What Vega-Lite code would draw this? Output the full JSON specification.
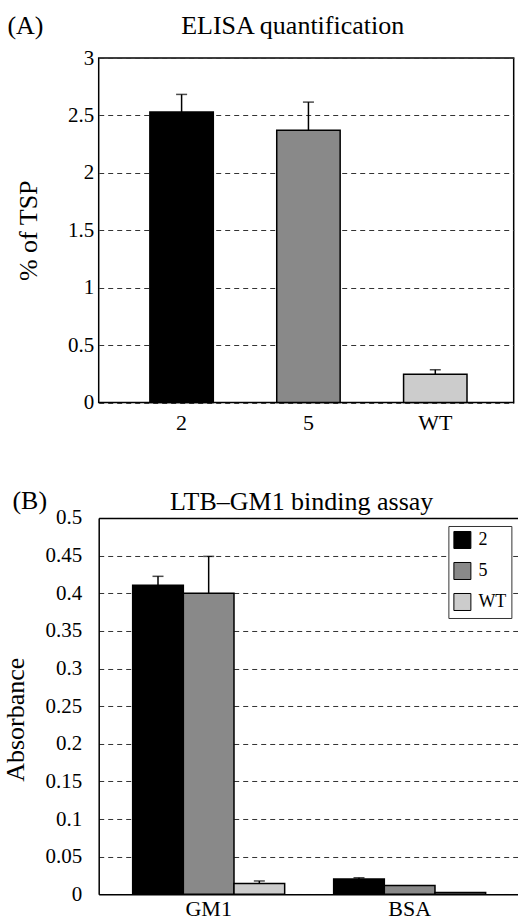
{
  "$schema": "https://vega.github.io/schema/vega-lite/v6.json",
  "padding": {"left": 2.7, "top": 12, "right": 0, "bottom": 0},
  "spacing": 53,
  "resolve": {"scale": {"color": "independent"}, "legend": {"color": "independent"}},
  "config": {
    "font": "Liberation Serif",
    "view": {"stroke": "#000", "strokeWidth": 1.5},
    "axis": {
      "labelFont": "Liberation Serif", "titleFont": "Liberation Serif",
      "labelColor": "#000", "titleColor": "#000", "titleFontWeight": "normal",
      "domainColor": "#000", "domainWidth": 1.5, "ticks": false,
      "gridColor": "#333", "gridDash": [5, 4], "gridWidth": 1
    },
    "title": {"font": "Liberation Serif", "fontWeight": "normal", "fontSize": 26, "color": "#000"},
    "legend": {
      "labelFont": "Liberation Serif", "labelFontSize": 18, "labelColor": "#000",
      "symbolType": "square", "symbolSize": 289, "symbolStrokeColor": "#000", "symbolStrokeWidth": 1,
      "rowPadding": 9, "padding": 5, "strokeColor": "#333", "fillColor": "#fff", "labelOffset": 7
    }
  },
  "vconcat": [
    {
      "width": 415, "height": 344.5,
      "title": {"text": "(A)", "anchor": "start", "frame": "group", "dx": -91.3, "dy": 47, "baseline": "alphabetic", "offset": 0},
      "data": {"values": [
        {"s": "2", "v": 2.53, "hi": 2.683},
        {"s": "5", "v": 2.37, "hi": 2.616},
        {"s": "WT", "v": 0.247, "hi": 0.285}
      ]},
      "layer": [
        {
          "mark": {"type": "bar", "stroke": "#000", "strokeWidth": 1.5},
          "encoding": {
            "x": {"field": "s", "type": "nominal", "sort": ["2", "5", "WT"],
              "scale": {"paddingInner": 0.5, "paddingOuter": 0.3858, "align": 0.523},
              "axis": {"orient": "bottom", "title": null, "labelAngle": 0, "labelFontSize": 22, "labelPadding": 10, "domain": false, "grid": false}},
            "y": {"field": "v", "type": "quantitative", "scale": {"domain": [0, 3], "nice": false},
              "axis": {"orient": "left", "title": "% of TSP", "values": [0, 0.5, 1, 1.5, 2, 2.5, 3], "format": "~g", "labelFont": "Liberation Serif", "labelFontSize": 21, "labelPadding": 5,
                "titleFontSize": 26, "titleX": -57, "titleBaseline": "bottom", "domain": false, "grid": true}},
            "color": {"field": "s", "type": "nominal", "scale": {"domain": ["2", "5", "WT"], "range": ["#000000", "#898989", "#cccccc"]}, "legend": null}
          }
        },
        {
          "mark": {"type": "rule", "color": "#000", "strokeWidth": 1.5},
          "encoding": {
            "x": {"field": "s", "type": "nominal", "sort": ["2", "5", "WT"],
              "scale": {"paddingInner": 0.5, "paddingOuter": 0.3858, "align": 0.523},
              "axis": {"orient": "top", "title": "ELISA quantification", "labels": false, "ticks": false, "domain": false, "grid": false,
                "titleFontSize": 26, "titleX": 193.5, "titleY": -24.2, "titleBaseline": "alphabetic", "titleAlign": "center"}},
            "y": {"field": "v", "type": "quantitative", "scale": {"domain": [0, 3], "nice": false},
              "axis": {"orient": "left", "title": "% of TSP", "values": [0, 0.5, 1, 1.5, 2, 2.5, 3], "format": "~g", "labelFont": "Liberation Serif", "labelFontSize": 21, "labelPadding": 5,
                "titleFontSize": 26, "titleX": -57, "titleBaseline": "bottom", "domain": false, "grid": true}},
            "y2": {"field": "hi"}
          }
        },
        {
          "mark": {"type": "tick", "color": "#000", "thickness": 1.5, "size": 11},
          "encoding": {
            "x": {"field": "s", "type": "nominal", "sort": ["2", "5", "WT"], "axis": null},
            "y": {"field": "hi", "type": "quantitative", "scale": {"domain": [0, 3], "nice": false},
              "axis": {"orient": "left", "title": "% of TSP", "values": [0, 0.5, 1, 1.5, 2, 2.5, 3], "format": "~g", "labelFont": "Liberation Serif", "labelFontSize": 21, "labelPadding": 5,
                "titleFontSize": 26, "titleX": -57, "titleBaseline": "bottom", "domain": false, "grid": true}}
          }
        }
      ]
    },
    {
      "width": 420, "height": 376.3,
      "view": {"stroke": null},
      "title": {"text": "(B)", "anchor": "start", "frame": "group", "dx": -86.3, "dy": 47, "baseline": "alphabetic", "offset": 0},
      "data": {"values": [
        {"g": "GM1", "s": "2", "v": 0.4106, "hi": 0.4225},
        {"g": "GM1", "s": "5", "v": 0.400, "hi": 0.449},
        {"g": "GM1", "s": "WT", "v": 0.0142, "hi": 0.0177},
        {"g": "BSA", "s": "2", "v": 0.0204, "hi": 0.022},
        {"g": "BSA", "s": "5", "v": 0.0116},
        {"g": "BSA", "s": "WT", "v": 0.0023}
      ]},
      "layer": [
        {
          "mark": {"type": "bar", "stroke": "#000", "strokeWidth": 1.5},
          "encoding": {
            "x": {"field": "g", "type": "nominal", "sort": ["GM1", "BSA"],
              "scale": {"paddingInner": 0.2438, "paddingOuter": 0.1667, "align": 0.507},
              "axis": {"orient": "bottom", "title": null, "labelAngle": 0, "labelFontSize": 22, "labelPadding": 4, "domain": true, "grid": false}},
            "xOffset": {"field": "s", "type": "nominal", "sort": ["2", "5", "WT"], "scale": {"paddingInner": 0, "paddingOuter": 0}},
            "y": {"field": "v", "type": "quantitative", "scale": {"domain": [0, 0.5], "nice": false},
              "axis": {"orient": "left", "title": "Absorbance", "values": [0, 0.05, 0.1, 0.15, 0.2, 0.25, 0.3, 0.35, 0.4, 0.45, 0.5], "format": "~g", "labelFont": "Liberation Serif",
                "labelFontSize": 21, "labelPadding": 17, "titleFontSize": 26, "titleX": -70, "titleY": 201.3, "titleBaseline": "bottom",
                "domain": true, "grid": true}},
            "color": {"field": "s", "type": "nominal", "scale": {"domain": ["2", "5", "WT"], "range": ["#000000", "#898989", "#cccccc"]},
              "legend": {"orient": "none", "legendX": 349.7, "legendY": 8, "title": null}}
          }
        },
        {
          "transform": [{"filter": "datum.hi != null"}],
          "mark": {"type": "rule", "color": "#000", "strokeWidth": 1.5},
          "encoding": {
            "x": {"field": "g", "type": "nominal", "sort": ["GM1", "BSA"],
              "scale": {"paddingInner": 0.2438, "paddingOuter": 0.1667, "align": 0.507},
              "axis": {"orient": "top", "title": "LTB\u2013GM1 binding assay", "labels": false, "ticks": false, "domain": true, "grid": false,
                "titleFontSize": 26, "titleX": 202.5, "titleY": -8.7, "titleBaseline": "alphabetic", "titleAlign": "center"}},
            "xOffset": {"field": "s", "type": "nominal", "sort": ["2", "5", "WT"]},
            "y": {"field": "v", "type": "quantitative", "scale": {"domain": [0, 0.5], "nice": false},
              "axis": {"orient": "left", "title": "Absorbance", "values": [0, 0.05, 0.1, 0.15, 0.2, 0.25, 0.3, 0.35, 0.4, 0.45, 0.5], "format": "~g", "labelFont": "Liberation Serif",
                "labelFontSize": 21, "labelPadding": 17, "titleFontSize": 26, "titleX": -70, "titleY": 201.3, "titleBaseline": "bottom",
                "domain": true, "grid": true}},
            "y2": {"field": "hi"}
          }
        },
        {
          "transform": [{"filter": "datum.hi != null"}],
          "mark": {"type": "tick", "color": "#000", "thickness": 1.5, "size": 11},
          "encoding": {
            "x": {"field": "g", "type": "nominal", "sort": ["GM1", "BSA"], "axis": null},
            "xOffset": {"field": "s", "type": "nominal", "sort": ["2", "5", "WT"]},
            "y": {"field": "hi", "type": "quantitative", "scale": {"domain": [0, 0.5], "nice": false},
              "axis": {"orient": "left", "title": "Absorbance", "values": [0, 0.05, 0.1, 0.15, 0.2, 0.25, 0.3, 0.35, 0.4, 0.45, 0.5], "format": "~g", "labelFont": "Liberation Serif",
                "labelFontSize": 21, "labelPadding": 17, "titleFontSize": 26, "titleX": -70, "titleY": 201.3, "titleBaseline": "bottom",
                "domain": true, "grid": true}}
          }
        }
      ]
    }
  ]
}
